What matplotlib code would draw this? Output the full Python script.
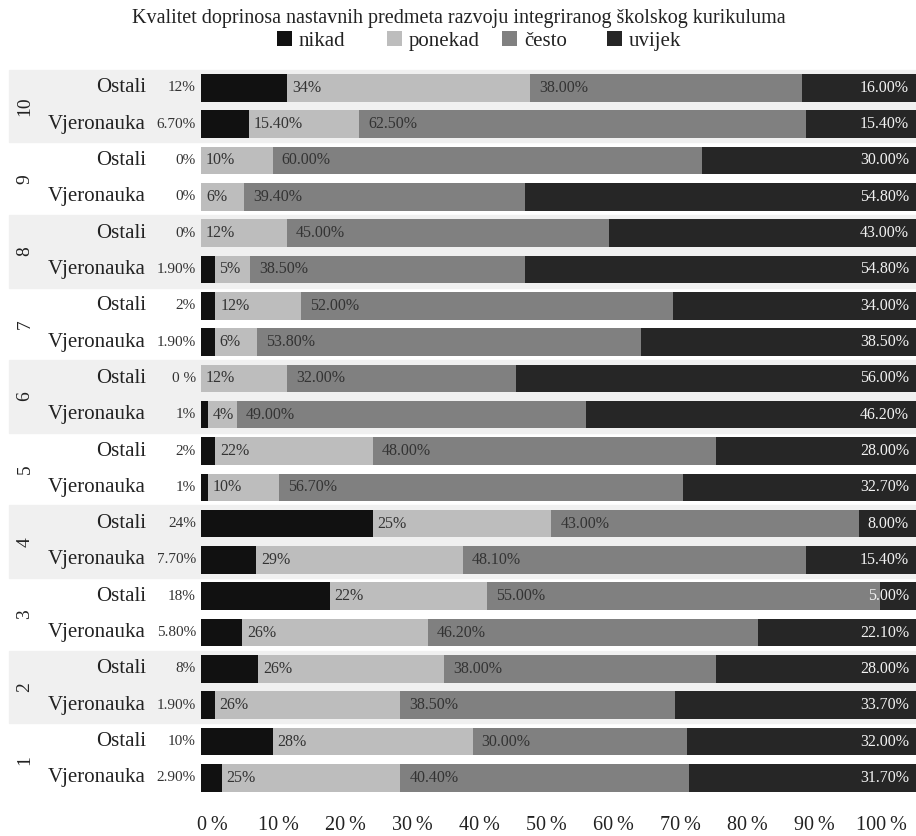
import matplotlib
matplotlib.use("Agg")
import matplotlib.pyplot as plt
import matplotlib.transforms as mtransforms
from matplotlib.patches import Rectangle
import numpy as np

serif = ['Liberation Serif', 'DejaVu Serif']
plt.rcParams['font.family'] = serif

# Data, rows from top to bottom (group 10 -> 1, Ostali then Vjeronauka)
title = "Kvalitet doprinosa nastavnih predmeta razvoju integriranog školskog kurikuluma"
groups = ["10", "9", "8", "7", "6", "5", "4", "3", "2", "1"]
series = ["Ostali", "Vjeronauka"]
answers = ["nikad", "ponekad", "često", "uvijek"]

nikad = [12, 6.7, 0, 0, 0, 1.9, 2, 1.9, 0, 1, 2, 1, 24, 7.7, 18, 5.8, 8, 1.9, 10, 2.9]
ponekad = [34, 15.4, 10, 6, 12, 5, 12, 6, 12, 4, 22, 10, 25, 29, 22, 26, 26, 26, 28, 25]
cesto = [38, 62.5, 60, 39.4, 45, 38.5, 52, 53.8, 32, 49, 48, 56.7, 43, 48.1, 55, 46.2, 38, 38.5, 30, 40.4]
uvijek = [16, 15.4, 30, 54.8, 43, 54.8, 34, 38.5, 56, 46.2, 28, 32.7, 8, 15.4, 5, 22.1, 28, 33.7, 32, 31.7]

nikad_lbl = ["12%", "6.70%", "0%", "0%", "0%", "1.90%", "2%", "1.90%", "0 %", "1%",
             "2%", "1%", "24%", "7.70%", "18%", "5.80%", "8%", "1.90%", "10%", "2.90%"]
ponekad_lbl = ["34%", "15.40%", "10%", "6%", "12%", "5%", "12%", "6%", "12%", "4%",
               "22%", "10%", "25%", "29%", "22%", "26%", "26%", "26%", "28%", "25%"]
xticks = list(range(0, 101, 10))

colors = ["#111111", "#bdbdbd", "#808080", "#262626"]

W, H = 916, 836
fig = plt.figure(figsize=(W / 100, H / 100), dpi=100)


def fx(px):
    return px / W


def fy(py):
    return 1 - py / H


ax = fig.add_axes([fx(201), fy(796), fx(916) - fx(201), fy(69.7) - fy(796)])

rows = np.arange(len(nikad))
vals = np.array([nikad, ponekad, cesto, uvijek], dtype=float)
pct = vals / vals.sum(axis=0) * 100  # 100% stacked

left = np.zeros(len(rows))
handles = []
for k in range(4):
    b = ax.barh(rows, pct[k], left=left, height=0.76, color=colors[k], linewidth=0, zorder=2)
    handles.append(b)
    left += pct[k]
ax.set_xlim(0, 100)
ax.set_ylim(len(rows) - 0.5, -0.5)
ax.axis("off")

trans = mtransforms.blended_transform_factory(fig.transFigure, ax.transData)

# alternating group bands
for g in range(0, len(groups), 2):
    ax.add_patch(Rectangle((fx(9), 2 * g - 0.5), 1 - fx(9), 2, transform=trans,
                           color="#f0f0f0", zorder=0, clip_on=False))

for g, name in enumerate(groups):
    ax.text(fx(25), 2 * g + 0.5, name, transform=trans, rotation=90,
            ha="center", va="center", fontsize=14, color="#222")

for i in rows:
    ax.text(fx(145.7), i, series[i % 2], transform=trans, ha="right", va="center",
            fontsize=15, color="#222")
    ax.annotate(nikad_lbl[i], xy=(0, i), xytext=(-5, 0), textcoords="offset pixels",
                ha="right", va="center", fontsize=11, color="#333")
    ax.annotate(ponekad_lbl[i], xy=(pct[0][i], i), xytext=(5, 0), textcoords="offset pixels",
                ha="left", va="center", fontsize=11.5, color="#333", zorder=3)
    ax.annotate(f"{cesto[i]:.2f}%", xy=(pct[0][i] + pct[1][i], i), xytext=(9, 0),
                textcoords="offset pixels", ha="left", va="center", fontsize=11.5,
                color="#333", zorder=3)
    ax.annotate(f"{uvijek[i]:.2f}%", xy=(100, i), xytext=(-7, 0), textcoords="offset pixels",
                ha="right", va="center", fontsize=11.5, color="#f2f2f2", zorder=3)

fig.text(fx(459), fy(18), title, ha="center", va="center", fontsize=14.5, color="#222")

for k, x in enumerate([277, 387, 502, 607]):
    leg = fig.legend([handles[k]], [answers[k]], loc="center left",
                     bbox_to_anchor=(fx(x), fy(41)), frameon=False, fontsize=15,
                     handlelength=0.7, handleheight=0.7, handletextpad=0.35,
                     borderpad=0, borderaxespad=0)
    for t in leg.get_texts():
        t.set_fontfamily(serif)
        t.set_color("#222")

# percent scale below the bars
ax2 = fig.add_axes([fx(212), fy(816), fx(881) - fx(212), 0.0001])
ax2.set_xlim(0, 100)
ax2.set_xticks(xticks, [f"{t}\u2009%" for t in xticks])
ax2.set_yticks([])
ax2.tick_params(length=0, pad=0, labelsize=14.5, labelcolor="#222")
for s in ax2.spines.values():
    s.set_visible(False)
ax2.patch.set_visible(False)

fig.savefig("out.png", dpi=100)
